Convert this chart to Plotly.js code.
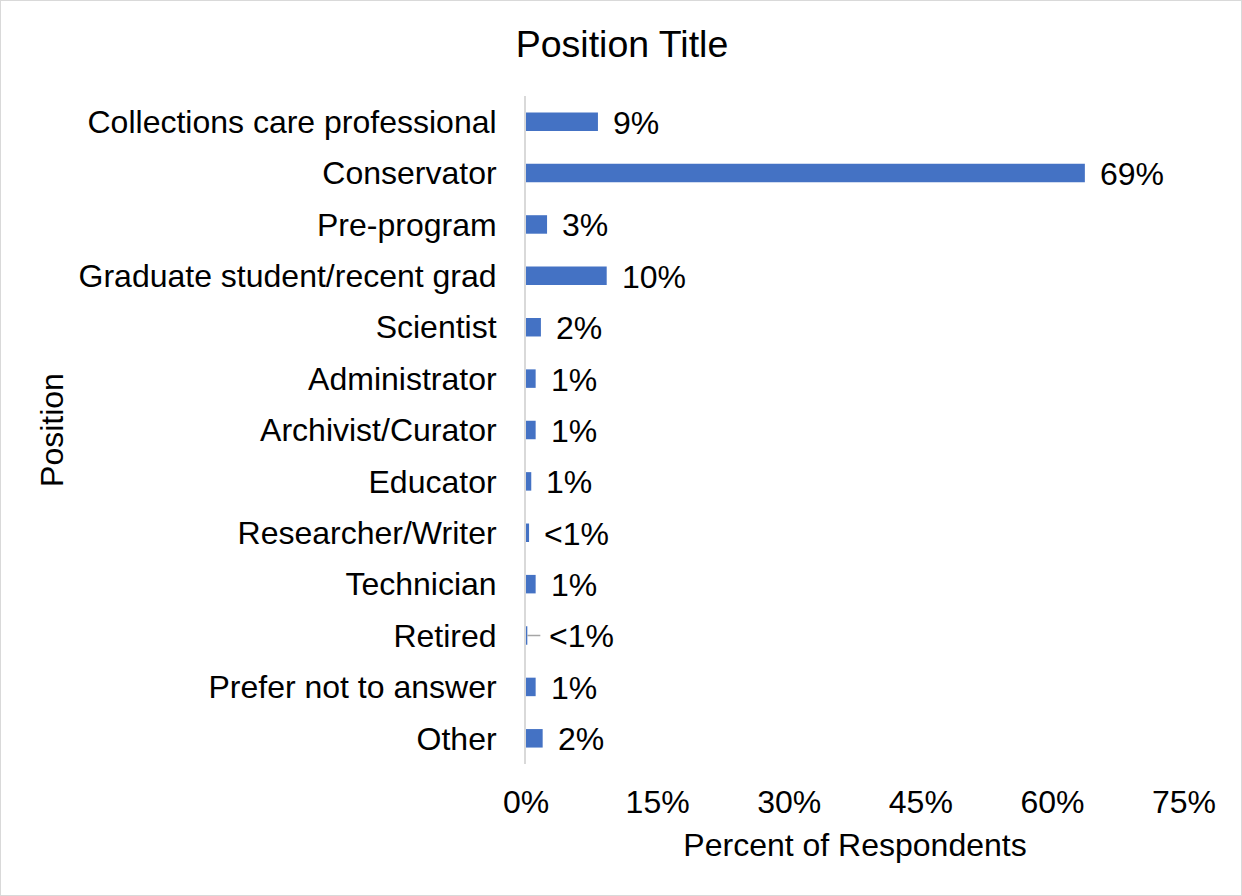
<!DOCTYPE html>
<html>
<head>
<meta charset="utf-8">
<script src="https://cdn.plot.ly/plotly-3.0.1.min.js"></script>
<style>
  html, body { margin: 0; padding: 0; background: #fff; }
  #chart { width: 1242px; height: 896px; box-sizing: border-box; border: 1.5px solid #d9d9d9; }
</style>
</head>
<body>
<div id="chart"></div>
<script>
const categories = [
  "Collections care professional",
  "Conservator",
  "Pre-program",
  "Graduate student/recent grad",
  "Scientist",
  "Administrator",
  "Archivist/Curator",
  "Educator",
  "Researcher/Writer",
  "Technician",
  "Retired",
  "Prefer not to answer",
  "Other"
];
const values = [8.2, 63.7, 2.4, 9.2, 1.7, 1.1, 1.1, 0.6, 0.35, 1.1, 0.15, 1.1, 1.9];
const valueLabels = ["9%", "69%", "3%", "10%", "2%", "1%", "1%", "1%", "<1%", "1%", "<1%", "1%", "2%"];
const xTicks = [0, 15, 30, 45, 60, 75];
const xTickLabels = ["0%", "15%", "30%", "45%", "60%", "75%"];
const leaderCategory = "Retired";

const FONT = "Liberation Sans, Arial, sans-serif";
const textColor = "#000000";
const FS = 32;

const trace = {
  type: "bar",
  orientation: "h",
  x: values,
  y: categories,
  marker: { color: "#4472C4", line: { width: 0 } },
  hoverinfo: "skip"
};

const annotations = categories.map((c, i) => {
  if (c === leaderCategory) {
    return {
      x: values[i], y: c, xref: "x", yref: "y",
      text: valueLabels[i],
      showarrow: true, arrowhead: 0, arrowwidth: 1.5, arrowcolor: "#a6a6a6",
      ax: 54, ay: 0, standoff: 0, startstandoff: 7,
      font: { family: FONT, size: FS, color: textColor }
    };
  }
  return {
    x: values[i], y: c, xref: "x", yref: "y",
    text: valueLabels[i],
    showarrow: false, xanchor: "left", yanchor: "middle",
    xshift: 13, yshift: -1,
    font: { family: FONT, size: FS, color: textColor }
  };
});

const layout = {
  width: 1242,
  height: 896,
  paper_bgcolor: "rgba(0,0,0,0)",
  plot_bgcolor: "#ffffff",
  margin: { l: 525, r: 59, t: 95, b: 133 },
  showlegend: false,
  bargap: 0.64,
  font: { family: FONT, size: FS, color: textColor },
  title: {
    text: "Position Title",
    x: 0.5, xref: "container", xanchor: "center",
    y: 1 - 43 / 896, yref: "container", yanchor: "middle",
    font: { family: FONT, size: 37.5, color: textColor }
  },
  xaxis: {
    range: [0, 75],
    tickvals: xTicks,
    ticktext: xTickLabels,
    showgrid: false,
    zeroline: false,
    showline: false,
    ticks: "",
    ticklabelstandoff: 16,
    tickfont: { family: FONT, size: FS, color: textColor },
    automargin: false,
    title: {
      text: "Percent of Respondents",
      standoff: 14,
      font: { family: FONT, size: FS, color: textColor }
    },
    fixedrange: true
  },
  yaxis: {
    type: "category",
    autorange: "reversed",
    showgrid: false,
    zeroline: false,
    showline: true,
    linecolor: "#d9d9d9",
    linewidth: 2,
    ticks: "",
    ticklabelstandoff: 21,
    tickfont: { family: FONT, size: FS, color: textColor },
    automargin: false,
    title: {
      text: "Position",
      standoff: 5,
      font: { family: FONT, size: FS, color: textColor }
    },
    fixedrange: true
  },
  annotations: annotations
};

Plotly.newPlot("chart", [trace], layout, { displayModeBar: false, staticPlot: true });
</script>
</body>
</html>
